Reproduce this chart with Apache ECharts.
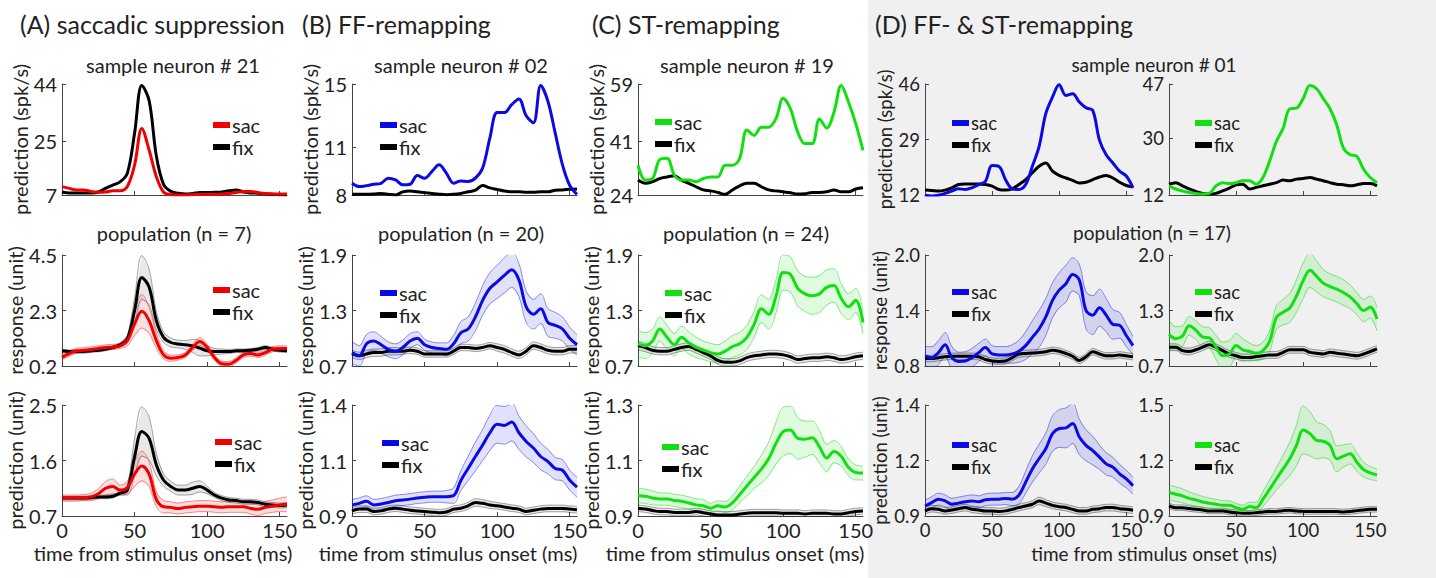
<!DOCTYPE html>
<html><head><meta charset="utf-8">
<script src="https://cdn.jsdelivr.net/npm/echarts@6/dist/echarts.min.js"></script>
<style>html,body{margin:0;padding:0;background:#fff}#c{width:1436px;height:578px}</style>
</head><body><div id="c"></div>
<script>
// ---------------- data ----------------
const timeMs = [0,5,10,15,20,25,30,35,40,45,50,55,60,65,70,75,80,85,90,95,100,105,110,115,120,125,130,135,140,145,150,155];
const xTicks = [0,50,100,150];

// row 1: sample neurons (spk/s)
const sacA1 = [9.8,9.2,8.7,8.7,8.2,7.9,8.0,8.4,8.4,9.8,17.0,29.2,22.0,13.1,7.9,7.1,7.0,7.0,7.1,7.2,7.2,7.2,7.3,7.5,7.8,8.2,8.2,7.8,7.5,7.4,7.3,7.3];
const fixA1 = [8.0,7.7,7.7,7.7,7.7,8.0,9.2,10.3,11.4,14.2,27.6,43.5,38.5,20.0,10.5,8.2,7.6,7.3,7.5,7.8,7.8,7.9,8.0,8.4,8.7,8.0,7.7,7.6,7.4,7.2,7.1,7.0];
const sacB1 = [8.74,8.53,8.59,8.68,8.74,9.06,8.95,8.64,8.68,9.23,9.06,9.48,9.91,9.38,8.74,8.89,8.85,9.06,9.7,11.6,13.2,13.2,13.7,14.05,13.0,12.56,14.9,13.9,11.9,9.9,8.6,8.04];
const fixB1 = [8.04,8.04,8.04,8.06,8.1,8.05,8.0,8.2,8.25,8.2,8.15,8.1,8.05,8.02,8.04,8.1,8.2,8.3,8.6,8.45,8.35,8.25,8.2,8.2,8.17,8.17,8.2,8.2,8.3,8.32,8.36,8.38];
const sacC1 = [33.4,28.7,29.2,35.2,35.6,30.3,28.7,28.7,28.2,29.2,29.7,29.7,33.4,33.4,35.5,44.5,42.8,45.4,45.4,48.0,54.5,51.2,43.9,40.2,40.2,48.0,45.1,50.1,58.5,53.3,46.5,38.1];
const fixC1 = [28.7,27.7,28.2,29.2,29.7,30.1,28.7,27.7,26.6,25.6,25.3,24.8,24.2,25.6,26.9,27.7,27.7,26.6,25.6,25.3,25.0,24.7,24.3,24.4,24.8,24.8,25.0,25.6,25.0,25.0,25.9,26.3];
const sacD1L = [11.9,11.7,11.9,12.5,13.2,13.9,13.7,14.2,15.2,16.2,21.0,20.8,16.7,13.9,13.7,15.2,20.8,26.8,36.9,42.0,45.8,42.5,43.0,40.5,38.7,37.9,28.8,24.3,21.8,19.3,17.8,14.2];
const fixD1L = [13.5,13.4,13.2,13.5,14.2,15.2,15.4,15.4,15.4,15.2,14.7,13.7,13.5,13.9,15.2,16.7,18.8,20.8,21.8,19.3,18.0,17.2,16.5,15.7,15.9,16.7,17.5,18.0,17.2,15.9,14.9,14.5];
const sacD1R = [14.9,13.9,13.3,12.8,12.5,12.3,12.5,14.9,15.9,15.6,15.9,16.5,16.5,15.4,17.5,22.7,28.9,33.0,39.2,39.4,42.4,46.5,45.5,42.4,39.2,34.1,26.8,24.7,24.2,20.1,17.5,15.9];
const fixD1R = [15.4,15.9,14.9,13.9,13.1,12.5,12.3,12.5,13.3,14.2,15.2,15.4,13.9,14.4,14.9,15.4,15.9,16.7,16.5,17.0,17.2,17.5,17.0,16.5,15.9,15.4,15.2,14.9,15.2,15.6,15.6,14.9];

// row 2: population responses (unit), mean and half-width of band
const sacA2 = [0.53,0.68,0.79,0.81,0.84,0.88,0.92,0.94,0.98,1.18,1.83,2.32,1.96,1.18,0.63,0.5,0.53,0.63,0.92,1.15,0.92,0.53,0.29,0.27,0.42,0.63,0.68,0.63,0.72,0.85,0.88,0.88];
const sacErrA2 = [0.1,0.1,0.1,0.1,0.1,0.1,0.1,0.1,0.1,0.2,0.45,0.65,0.5,0.3,0.15,0.12,0.1,0.1,0.12,0.15,0.12,0.1,0.1,0.1,0.1,0.1,0.1,0.1,0.1,0.1,0.1,0.1];
const fixA2 = [0.79,0.76,0.76,0.76,0.79,0.81,0.85,0.92,1.02,1.24,2.35,3.63,3.26,1.96,1.31,1.11,1.05,1.02,0.98,0.89,0.79,0.76,0.76,0.76,0.79,0.79,0.81,0.85,0.92,0.85,0.81,0.79];
const fixErrA2 = [0.06,0.06,0.06,0.06,0.06,0.06,0.06,0.06,0.08,0.15,0.5,0.85,0.7,0.35,0.2,0.17,0.15,0.17,0.25,0.3,0.2,0.12,0.1,0.08,0.07,0.07,0.07,0.07,0.07,0.07,0.07,0.07];
const sacB2 = [0.845,0.81,0.94,0.97,0.93,0.88,0.86,0.90,0.97,1.0,0.93,0.90,0.89,0.88,0.94,1.06,1.10,1.23,1.41,1.54,1.61,1.68,1.74,1.63,1.34,1.26,1.32,1.17,1.14,1.10,1.0,0.93];
const sacErrB2 = [0.12,0.11,0.1,0.1,0.09,0.08,0.08,0.08,0.08,0.07,0.06,0.06,0.06,0.07,0.09,0.12,0.13,0.15,0.16,0.17,0.18,0.19,0.19,0.18,0.17,0.16,0.16,0.15,0.14,0.13,0.12,0.11];
const fixB2 = [0.83,0.81,0.83,0.845,0.845,0.86,0.86,0.86,0.87,0.86,0.83,0.83,0.83,0.83,0.86,0.90,0.90,0.89,0.90,0.92,0.90,0.88,0.845,0.82,0.86,0.92,0.90,0.87,0.86,0.86,0.88,0.88];
const fixErrB2 = [0.04,0.04,0.04,0.04,0.04,0.04,0.04,0.035,0.035,0.035,0.035,0.035,0.035,0.035,0.035,0.035,0.035,0.035,0.035,0.035,0.04,0.04,0.04,0.04,0.04,0.04,0.04,0.04,0.04,0.04,0.04,0.04];
const sacC2 = [0.94,0.92,0.97,1.10,1.01,0.93,1.01,0.95,0.90,0.87,0.845,0.83,0.86,0.91,0.94,1.01,1.15,1.32,1.26,1.45,1.71,1.69,1.54,1.48,1.46,1.48,1.55,1.57,1.43,1.34,1.41,1.17];
const sacErrC2 = [0.14,0.14,0.13,0.13,0.13,0.12,0.12,0.12,0.11,0.1,0.1,0.1,0.11,0.12,0.12,0.13,0.14,0.15,0.16,0.18,0.19,0.19,0.19,0.19,0.2,0.2,0.19,0.18,0.16,0.14,0.13,0.12];
const fixC2 = [0.92,0.90,0.87,0.86,0.86,0.88,0.90,0.91,0.88,0.845,0.81,0.76,0.74,0.74,0.755,0.79,0.81,0.82,0.83,0.83,0.82,0.80,0.77,0.78,0.79,0.79,0.80,0.79,0.77,0.78,0.80,0.81];
const fixErrC2 = [0.045,0.045,0.04,0.04,0.04,0.04,0.04,0.04,0.04,0.04,0.04,0.04,0.04,0.04,0.04,0.04,0.04,0.04,0.04,0.04,0.04,0.04,0.04,0.04,0.04,0.04,0.04,0.04,0.04,0.04,0.04,0.04];
const sacD2L = [0.91,0.89,0.945,1.03,0.89,0.85,0.855,0.89,0.945,1.0,0.93,0.92,0.92,0.93,0.96,1.02,1.11,1.20,1.33,1.51,1.62,1.69,1.79,1.73,1.40,1.35,1.43,1.35,1.25,1.24,1.13,1.02];
const sacErrD2L = [0.1,0.12,0.13,0.13,0.12,0.1,0.1,0.1,0.1,0.09,0.09,0.09,0.09,0.1,0.12,0.15,0.18,0.2,0.2,0.19,0.19,0.2,0.18,0.17,0.2,0.21,0.2,0.18,0.16,0.14,0.12,0.1];
const fixD2L = [0.88,0.88,0.89,0.90,0.905,0.905,0.905,0.905,0.90,0.87,0.855,0.85,0.855,0.89,0.93,0.935,0.94,0.945,0.955,0.97,0.96,0.935,0.905,0.86,0.90,0.955,0.93,0.91,0.91,0.92,0.91,0.90];
const fixErrD2L = [0.035,0.035,0.035,0.035,0.035,0.035,0.035,0.035,0.035,0.035,0.035,0.035,0.035,0.035,0.035,0.035,0.035,0.035,0.035,0.035,0.035,0.035,0.035,0.035,0.035,0.035,0.035,0.035,0.035,0.035,0.035,0.035];
const sacD2R = [1.07,1.02,1.05,1.17,1.12,1.04,1.03,0.92,0.82,0.84,0.94,0.89,0.87,0.85,0.88,0.99,1.27,1.33,1.38,1.52,1.70,1.82,1.75,1.67,1.63,1.60,1.56,1.51,1.43,1.35,1.39,1.25];
const sacErrD2R = [0.17,0.14,0.12,0.11,0.11,0.12,0.12,0.14,0.16,0.16,0.14,0.13,0.1,0.09,0.1,0.12,0.14,0.15,0.17,0.19,0.21,0.2,0.18,0.16,0.15,0.15,0.15,0.14,0.13,0.13,0.13,0.14];
const fixD2R = [0.92,0.92,0.88,0.87,0.89,0.92,0.95,0.92,0.88,0.84,0.82,0.80,0.80,0.81,0.82,0.83,0.83,0.86,0.89,0.89,0.89,0.86,0.85,0.84,0.86,0.85,0.84,0.83,0.82,0.84,0.87,0.90];
const fixErrD2R = [0.04,0.04,0.04,0.04,0.04,0.04,0.04,0.04,0.04,0.04,0.04,0.04,0.04,0.04,0.04,0.04,0.04,0.04,0.04,0.04,0.04,0.04,0.04,0.04,0.04,0.04,0.04,0.04,0.04,0.04,0.04,0.04];

// row 3: population predictions (unit)
const sacA3 = [0.99,0.99,0.99,1.0,1.01,1.06,1.15,1.18,1.12,1.16,1.38,1.51,1.38,0.97,0.85,0.84,0.82,0.84,0.85,0.86,0.86,0.85,0.84,0.85,0.85,0.85,0.82,0.81,0.84,0.86,0.88,0.89];
const sacErrA3 = [0.05,0.05,0.05,0.05,0.06,0.08,0.11,0.12,0.08,0.1,0.2,0.24,0.2,0.12,0.1,0.09,0.09,0.09,0.09,0.09,0.09,0.09,0.09,0.09,0.09,0.09,0.09,0.1,0.1,0.1,0.11,0.12];
const fixA3 = [0.99,0.99,0.99,0.99,1.0,1.01,1.01,1.02,1.07,1.12,1.66,2.07,1.96,1.53,1.28,1.18,1.12,1.12,1.15,1.18,1.12,1.04,0.99,0.96,0.95,0.93,0.93,0.92,0.89,0.88,0.87,0.88];
const fixErrA3 = [0.03,0.03,0.03,0.03,0.03,0.03,0.03,0.03,0.03,0.08,0.3,0.4,0.35,0.18,0.1,0.08,0.08,0.08,0.1,0.09,0.06,0.04,0.04,0.04,0.04,0.04,0.04,0.04,0.04,0.04,0.04,0.04];
const sacB3 = [0.95,0.957,0.966,0.95,0.954,0.961,0.969,0.972,0.976,0.981,0.984,0.987,0.987,0.987,0.992,1.06,1.114,1.168,1.22,1.275,1.313,1.308,1.323,1.275,1.236,1.206,1.168,1.145,1.114,1.106,1.061,1.03];
const sacErrB3 = [0.025,0.025,0.025,0.025,0.025,0.025,0.025,0.025,0.025,0.025,0.025,0.025,0.025,0.028,0.035,0.045,0.055,0.065,0.07,0.08,0.085,0.085,0.085,0.075,0.07,0.065,0.06,0.055,0.05,0.048,0.045,0.045];
const fixB3 = [0.923,0.931,0.931,0.92,0.923,0.931,0.935,0.931,0.926,0.923,0.92,0.917,0.915,0.918,0.931,0.935,0.946,0.961,0.957,0.95,0.946,0.941,0.935,0.931,0.92,0.926,0.931,0.934,0.934,0.934,0.931,0.928];
const fixErrB3 = [0.015,0.015,0.015,0.015,0.015,0.015,0.015,0.015,0.015,0.015,0.015,0.015,0.015,0.015,0.015,0.015,0.016,0.017,0.017,0.016,0.015,0.015,0.015,0.015,0.015,0.015,0.015,0.015,0.015,0.015,0.015,0.015];
const sacC3 = [0.974,0.971,0.965,0.961,0.961,0.956,0.953,0.947,0.94,0.937,0.928,0.937,0.932,0.947,0.977,1.008,1.039,1.069,1.106,1.161,1.204,1.21,1.18,1.177,1.182,1.149,1.109,1.132,1.115,1.075,1.057,1.055];
const sacErrC3 = [0.026,0.026,0.025,0.022,0.022,0.022,0.022,0.022,0.022,0.022,0.018,0.018,0.02,0.025,0.03,0.035,0.04,0.05,0.06,0.075,0.088,0.085,0.075,0.065,0.06,0.058,0.05,0.04,0.035,0.03,0.027,0.025];
const fixC3 = [0.928,0.925,0.92,0.916,0.916,0.913,0.913,0.913,0.916,0.912,0.907,0.904,0.904,0.904,0.907,0.91,0.912,0.912,0.912,0.912,0.91,0.91,0.91,0.907,0.91,0.91,0.91,0.907,0.907,0.912,0.916,0.918];
const fixErrC3 = [0.012,0.012,0.012,0.012,0.012,0.012,0.012,0.012,0.012,0.012,0.012,0.012,0.012,0.012,0.012,0.012,0.012,0.012,0.012,0.012,0.012,0.012,0.012,0.012,0.012,0.012,0.012,0.012,0.012,0.012,0.012,0.012];
const sacD3L = [0.945,0.96,0.976,0.968,0.953,0.958,0.964,0.968,0.964,0.973,0.976,0.976,0.979,0.976,0.994,1.052,1.112,1.158,1.203,1.271,1.294,1.297,1.317,1.256,1.218,1.195,1.165,1.135,1.12,1.09,1.067,1.036];
const sacErrD3L = [0.027,0.027,0.027,0.027,0.027,0.027,0.027,0.027,0.027,0.027,0.027,0.027,0.027,0.03,0.04,0.05,0.06,0.065,0.07,0.08,0.085,0.09,0.09,0.08,0.07,0.065,0.055,0.05,0.045,0.042,0.04,0.038];
const fixD3L = [0.923,0.933,0.93,0.923,0.927,0.933,0.938,0.93,0.927,0.923,0.923,0.92,0.923,0.93,0.938,0.945,0.953,0.968,0.958,0.948,0.942,0.938,0.93,0.923,0.923,0.93,0.933,0.938,0.938,0.933,0.93,0.926];
const fixErrD3L = [0.015,0.015,0.015,0.015,0.015,0.015,0.015,0.015,0.015,0.015,0.015,0.015,0.015,0.015,0.015,0.015,0.016,0.017,0.016,0.015,0.015,0.015,0.015,0.015,0.015,0.015,0.015,0.015,0.015,0.015,0.015,0.015];
const sacD3R = [1.027,1.018,1.009,0.995,0.987,0.976,0.969,0.964,0.958,0.958,0.945,0.936,0.951,0.945,0.991,1.045,1.1,1.155,1.209,1.282,1.365,1.345,1.309,1.304,1.282,1.209,1.224,1.236,1.191,1.151,1.133,1.122];
const sacErrD3R = [0.04,0.04,0.038,0.035,0.032,0.03,0.028,0.026,0.025,0.024,0.023,0.023,0.024,0.03,0.04,0.05,0.06,0.075,0.09,0.11,0.13,0.12,0.1,0.09,0.08,0.07,0.06,0.055,0.05,0.04,0.035,0.032];
const fixD3R = [0.955,0.945,0.945,0.94,0.936,0.933,0.927,0.927,0.927,0.922,0.918,0.915,0.915,0.918,0.922,0.925,0.925,0.929,0.931,0.927,0.925,0.924,0.925,0.925,0.925,0.924,0.922,0.924,0.929,0.933,0.936,0.936];
const fixErrD3R = [0.015,0.015,0.015,0.015,0.015,0.015,0.015,0.015,0.015,0.015,0.015,0.015,0.015,0.015,0.015,0.015,0.015,0.015,0.015,0.015,0.015,0.015,0.015,0.015,0.015,0.015,0.015,0.015,0.015,0.015,0.015,0.015];

// y-axis ranges, tick positions and tick labels
const yRangeA1=[7,44],  yTicksA1=[7,25,44],   yLabA1=['7','25','44'];
const yRangeB1=[8,15],  yTicksB1=[8,11,15],   yLabB1=['8','11','15'];
const yRangeC1=[24,59], yTicksC1=[24,41,59],  yLabC1=['24','41','59'];
const yRangeD1L=[12,46],yTicksD1L=[12,29,46], yLabD1L=['12','29','46'];
const yRangeD1R=[12,47],yTicksD1R=[12,30,47], yLabD1R=['12','30','47'];
const yRangeA2=[0.2,4.5],yTicksA2=[0.2,2.35,4.5],yLabA2=['0.2','2.3','4.5'];
const yRangeB2=[0.7,1.9],yTicksB2=[0.7,1.3,1.9],yLabB2=['0.7','1.3','1.9'];
const yRangeC2=[0.7,1.9],yTicksC2=[0.7,1.3,1.9],yLabC2=['0.7','1.3','1.9'];
const yRangeD2L=[0.8,2.0],yTicksD2L=[0.8,1.4,2.0],yLabD2L=['0.8','1.4','2.0'];
const yRangeD2R=[0.7,2.0],yTicksD2R=[0.7,1.35,2.0],yLabD2R=['0.7','1.3','2.0'];
const yRangeA3=[0.7,2.5],yTicksA3=[0.7,1.6,2.5],yLabA3=['0.7','1.6','2.5'];
const yRangeB3=[0.9,1.4],yTicksB3=[0.9,1.15,1.4],yLabB3=['0.9','1.1','1.4'];
const yRangeC3=[0.9,1.3],yTicksC3=[0.9,1.1,1.3],yLabC3=['0.9','1.1','1.3'];
const yRangeD3L=[0.9,1.4],yTicksD3L=[0.9,1.15,1.4],yLabD3L=['0.9','1.2','1.4'];
const yRangeD3R=[0.9,1.5],yTicksD3R=[0.9,1.2,1.5],yLabD3R=['0.9','1.2','1.5'];

const yNames = ['prediction (spk/s)','response (unit)','prediction (unit)'];
const panelTitles = ['(A) saccadic suppression','(B) FF-remapping','(C) ST-remapping','(D) FF- & ST-remapping'];
const rowTitles1 = ['sample neuron # 21','sample neuron # 02','sample neuron # 19','sample neuron # 01'];
const rowTitles2 = ['population (n = 7)','population (n = 20)','population (n = 24)','population (n = 17)'];
const xName = 'time from stimulus onset (ms)';
const legendNames = ['sac','fix'];

// ---------------- style / layout ----------------
const RED='#f20000', BLUE='#0a0ae6', GREEN='#10e010', BLACK='#000000';
const FONT='Lato, "Open Sans", sans-serif', TXT='#222', AX='#444';
const cols = {A:{left:62,width:225},B:{left:352,width:225},C:{left:638,width:225},DL:{left:925,width:208},DR:{left:1169,width:208}};
const rows = [{top:84,height:111},{top:255,height:111},{top:405,height:111}];
const legendAt = {
  A:[[213,115],[213,280],[215,432]], B:[[380,115],[380,283],[382,433]], C:[[655,112],[665,283],[662,437]],
  DL:[[952,113],[952,282],[952,435]], DR:[[1195,113],[1195,282],[1195,435]]
};
const fontOf = {A:20,B:20,C:20,DL:18.5,DR:18.5};
const colorOf = {A:RED,B:BLUE,C:GREEN,DL:BLUE,DR:GREEN};
const bandFill = {A:'rgba(242,0,0,0.13)',B:'rgba(10,10,230,0.12)',C:'rgba(16,224,16,0.13)',DL:'rgba(10,10,230,0.12)',DR:'rgba(16,224,16,0.13)'};
const bandEdge = {A:'rgba(242,0,0,0.45)',B:'rgba(10,10,230,0.45)',C:'rgba(16,224,16,0.5)',DL:'rgba(10,10,230,0.45)',DR:'rgba(16,224,16,0.5)'};

const panels = [
 {row:0,col:'A', sac:sacA1, fix:fixA1, yr:yRangeA1, yt:yTicksA1, yl:yLabA1},
 {row:0,col:'B', sac:sacB1, fix:fixB1, yr:yRangeB1, yt:yTicksB1, yl:yLabB1},
 {row:0,col:'C', sac:sacC1, fix:fixC1, yr:yRangeC1, yt:yTicksC1, yl:yLabC1},
 {row:0,col:'DL',sac:sacD1L,fix:fixD1L,yr:yRangeD1L,yt:yTicksD1L,yl:yLabD1L},
 {row:0,col:'DR',sac:sacD1R,fix:fixD1R,yr:yRangeD1R,yt:yTicksD1R,yl:yLabD1R},
 {row:1,col:'A', sac:sacA2, se:sacErrA2, fix:fixA2, fe:fixErrA2, yr:yRangeA2, yt:yTicksA2, yl:yLabA2},
 {row:1,col:'B', sac:sacB2, se:sacErrB2, fix:fixB2, fe:fixErrB2, yr:yRangeB2, yt:yTicksB2, yl:yLabB2},
 {row:1,col:'C', sac:sacC2, se:sacErrC2, fix:fixC2, fe:fixErrC2, yr:yRangeC2, yt:yTicksC2, yl:yLabC2},
 {row:1,col:'DL',sac:sacD2L,se:sacErrD2L,fix:fixD2L,fe:fixErrD2L,yr:yRangeD2L,yt:yTicksD2L,yl:yLabD2L},
 {row:1,col:'DR',sac:sacD2R,se:sacErrD2R,fix:fixD2R,fe:fixErrD2R,yr:yRangeD2R,yt:yTicksD2R,yl:yLabD2R},
 {row:2,col:'A', sac:sacA3, se:sacErrA3, fix:fixA3, fe:fixErrA3, yr:yRangeA3, yt:yTicksA3, yl:yLabA3},
 {row:2,col:'B', sac:sacB3, se:sacErrB3, fix:fixB3, fe:fixErrB3, yr:yRangeB3, yt:yTicksB3, yl:yLabB3},
 {row:2,col:'C', sac:sacC3, se:sacErrC3, fix:fixC3, fe:fixErrC3, yr:yRangeC3, yt:yTicksC3, yl:yLabC3},
 {row:2,col:'DL',sac:sacD3L,se:sacErrD3L,fix:fixD3L,fe:fixErrD3L,yr:yRangeD3L,yt:yTicksD3L,yl:yLabD3L},
 {row:2,col:'DR',sac:sacD3R,se:sacErrD3R,fix:fixD3R,fe:fixErrD3R,yr:yRangeD3R,yt:yTicksD3R,yl:yLabD3R}
];

// ---------------- build option ----------------
const SMOOTH = 0.35;
const grid=[], xAxis=[], yAxis=[], series=[], legend=[];
const pts = arr => timeMs.map((t,k)=>[t,arr[k]]);
function addBand(i, mean, err, fill, edge, id){
  const lo = mean.map((m,k)=>m-err[k]);
  const hi = mean.map((m,k)=>m+err[k]);
  series.push({type:'custom', name:id, xAxisIndex:i, yAxisIndex:i, silent:true, clip:true, z:1,
    data: timeMs.map((t,k)=>[t, lo[k], hi[k]]),
    encode:{x:0, y:[1,2]},
    renderItem:(params, api)=>{
      if (params.dataIndex !== 0) return null;
      const up = timeMs.map((t,k)=>api.coord([t, hi[k]]));
      const dn = timeMs.map((t,k)=>api.coord([t, lo[k]])).reverse();
      return {type:'polygon', shape:{points: up.concat(dn)}, style:{fill:fill, stroke:null}};
    }});
  series.push({type:'line', name:id+' lower', xAxisIndex:i, yAxisIndex:i, smooth:SMOOTH, symbol:'none', silent:true,
    data: pts(lo), lineStyle:{width:1,color:edge}, z:2});
  series.push({type:'line', name:id+' upper', xAxisIndex:i, yAxisIndex:i, smooth:SMOOTH, symbol:'none', silent:true,
    data: pts(hi), lineStyle:{width:1,color:edge}, z:2});
}
panels.forEach((p,i)=>{
  const c=cols[p.col], r=rows[p.row], fs=fontOf[p.col];
  grid.push({left:c.left, top:r.top, width:c.width, height:r.height});
  xAxis.push({gridIndex:i, type:'value', min:0, max:155,
    axisLine:{show:true,onZero:false,lineStyle:{color:AX,width:1}},
    axisTick:{show:true,inside:true,length:4,customValues:xTicks,lineStyle:{color:AX}},
    axisLabel:{show:p.row===2, customValues:xTicks, margin:6, fontSize:fs, lineHeight:16, color:TXT, fontFamily:FONT},
    splitLine:{show:false}});
  yAxis.push({gridIndex:i, type:'value', min:p.yr[0], max:p.yr[1],
    name: p.col==='DR' ? '' : yNames[p.row], nameLocation:'middle', nameGap:25, nameRotate:90,
    nameTextStyle:{fontSize:fs, color:TXT, fontFamily:FONT, lineHeight:20},
    axisLine:{show:true,onZero:false,lineStyle:{color:AX,width:1}},
    axisTick:{show:true,inside:true,length:4,customValues:p.yt,lineStyle:{color:AX}},
    axisLabel:{customValues:p.yt, margin:5, fontSize:fs, lineHeight:16, color:TXT, fontFamily:FONT,
      formatter:(v)=>{ let k=0,b=1e9; p.yt.forEach((t,j)=>{const d=Math.abs(t-v); if(d<b){b=d;k=j;}}); return p.yl[k]; }},
    splitLine:{show:false}});
  const col = colorOf[p.col];
  if (p.se) {
    addBand(i, p.fix, p.fe, 'rgba(0,0,0,0.09)', 'rgba(0,0,0,0.35)', 'fixband'+i);
    addBand(i, p.sac, p.se, bandFill[p.col], bandEdge[p.col], 'sacband'+i);
  }
  series.push({type:'line', name:legendNames[1], xAxisIndex:i, yAxisIndex:i, smooth:SMOOTH, symbol:'none',
    data:pts(p.fix), lineStyle:{width:3,color:BLACK}, itemStyle:{color:BLACK}, z:3});
  series.push({type:'line', name:legendNames[0], xAxisIndex:i, yAxisIndex:i, smooth:SMOOTH, symbol:'none',
    data:pts(p.sac), lineStyle:{width:3,color:col}, itemStyle:{color:col}, z:4});
  const lp = legendAt[p.col][p.row];
  legend.push({left:lp[0], top:lp[1], orient:'vertical', padding:0, itemGap:2, itemWidth:17, itemHeight:6,
    icon:'rect', selectedMode:false,
    textStyle:{fontSize:fs, color:TXT, fontFamily:FONT, lineHeight:20, padding:[0,0,0,-3]},
    data:[{name:legendNames[0], itemStyle:{color:col, borderWidth:0}}, {name:legendNames[1], itemStyle:{color:BLACK, borderWidth:0}}]});
});

function txt(text, x, y, size, align){
  return {type:'text', x:x, y:y, silent:true, z:10,
    style:{text:text, fontSize:size, fontFamily:FONT, fill:TXT, lineHeight:size, align:align, textAlign:align, verticalAlign:'middle', textVerticalAlign:'middle'}};
}
const graphic = [
  {type:'rect', shape:{x:868,y:0,width:568,height:578}, style:{fill:'#f0f0f0'}, z:-100, silent:true},
  txt(panelTitles[0], 20, 24, 25, 'left'),
  txt(panelTitles[1], 302, 24, 25, 'left'),
  txt(panelTitles[2], 592, 24, 25, 'left'),
  txt(panelTitles[3], 875, 24, 25, 'left'),
  txt(rowTitles1[0], 173, 65, 20, 'center'),
  txt(rowTitles1[1], 461, 65, 20, 'center'),
  txt(rowTitles1[2], 747, 65, 20, 'center'),
  txt(rowTitles1[3], 1154, 64, 19, 'center'),
  txt(rowTitles2[0], 174, 233, 20, 'center'),
  txt(rowTitles2[1], 461, 233, 20, 'center'),
  txt(rowTitles2[2], 746, 233, 20, 'center'),
  txt(rowTitles2[3], 1152, 232, 19, 'center'),
  txt(xName, 163, 553, 20, 'center'),
  txt(xName, 448, 553, 20, 'center'),
  txt(xName, 735, 553, 20, 'center'),
  txt(xName, 1154, 553, 19, 'center')
];

const chart = echarts.init(document.getElementById('c'), null, {renderer:'svg'});
chart.setOption({backgroundColor:'#ffffff', animation:false, grid, xAxis, yAxis, series, legend, graphic});
</script>
</body></html>
